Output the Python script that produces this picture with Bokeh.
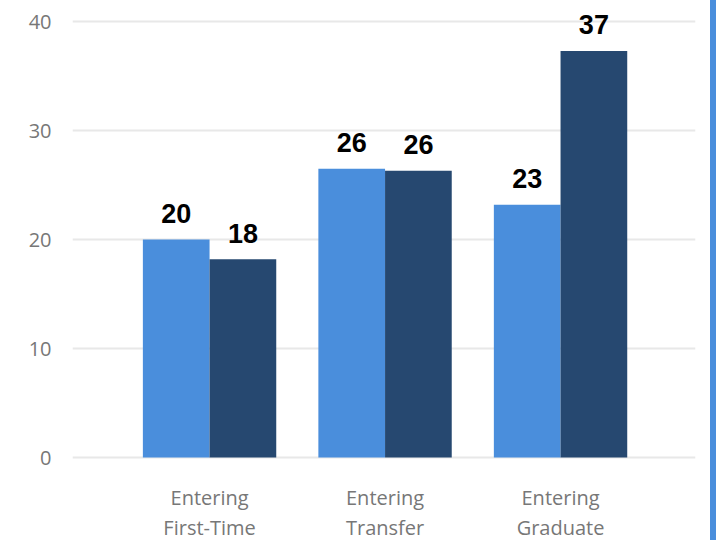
from bokeh.plotting import figure
from bokeh.models import Range1d, FixedTicker, ColumnDataSource
from bokeh.embed import file_html
from bokeh.resources import INLINE
from bokeh.core.properties import value

categories_line1 = ["Entering", "Entering", "Entering"]
categories_line2 = ["First-Time", "Transfer", "Graduate"]
series_a = [20.0, 26.5, 23.2]
series_b = [18.2, 26.3, 37.3]
labels_a = ["20", "26", "23"]
labels_b = ["18", "26", "37"]
y_ticks = [0, 10, 20, 30, 40]

LIGHT = "#4A8EDC"
DARK = "#264870"

xs = list(range(len(categories_line1)))
src_a = ColumnDataSource(dict(x=[i - 0.19 for i in xs], top=series_a, lab=labels_a))
src_b = ColumnDataSource(dict(x=[i + 0.19 for i in xs], top=series_b, lab=labels_b))
src_cat = ColumnDataSource(dict(x=xs, l1=categories_line1, l2=categories_line2,
                                y1=[-3.67] * 3, y2=[-6.42] * 3))

p = figure(width=716, height=540, output_backend="svg", toolbar_location=None,
           x_range=Range1d(-0.781, 2.769), y_range=Range1d(-7.61, 41.93),
           min_border_left=72, min_border_right=21, min_border_top=0, min_border_bottom=0)

p.vbar(x="x", top="top", width=0.38, source=src_a, color=LIGHT, line_width=0)
p.vbar(x="x", top="top", width=0.38, source=src_b, color=DARK, line_width=0)

for src in (src_a, src_b):
    p.text(x="x", y="top", text="lab", source=src, text_align="center",
           text_baseline="alphabetic", y_offset=-26,
           text_font=value("Liberation Sans"), text_font_style="bold",
           text_font_size="27px", text_color="#000000")

for col_text, col_y in (("l1", "y1"), ("l2", "y2")):
    p.text(x="x", y=col_y, text=col_text, source=src_cat,
           text_align="center", text_baseline="middle",
           text_font=value("Open Sans"), text_font_size="20px",
           text_color="#777777")

p.outline_line_color = None
p.background_fill_color = "white"
p.border_fill_color = "white"
p.xgrid.grid_line_color = None
p.ygrid.grid_line_color = "#E8E8E8"
p.ygrid.grid_line_width = 2

p.xaxis.visible = False
p.yaxis.ticker = FixedTicker(ticks=y_ticks)
ax = p.yaxis[0]
ax.axis_line_color = None
ax.major_tick_line_color = None
ax.minor_tick_line_color = None
ax.major_label_text_font = "Open Sans"
ax.major_label_text_font_size = "20px"
ax.major_label_text_color = "#777777"
ax.major_label_standoff = 15

p.styles = {"border-right": "6px solid #4A8EDC"}

open("out.html", "w").write(file_html(p, INLINE))
